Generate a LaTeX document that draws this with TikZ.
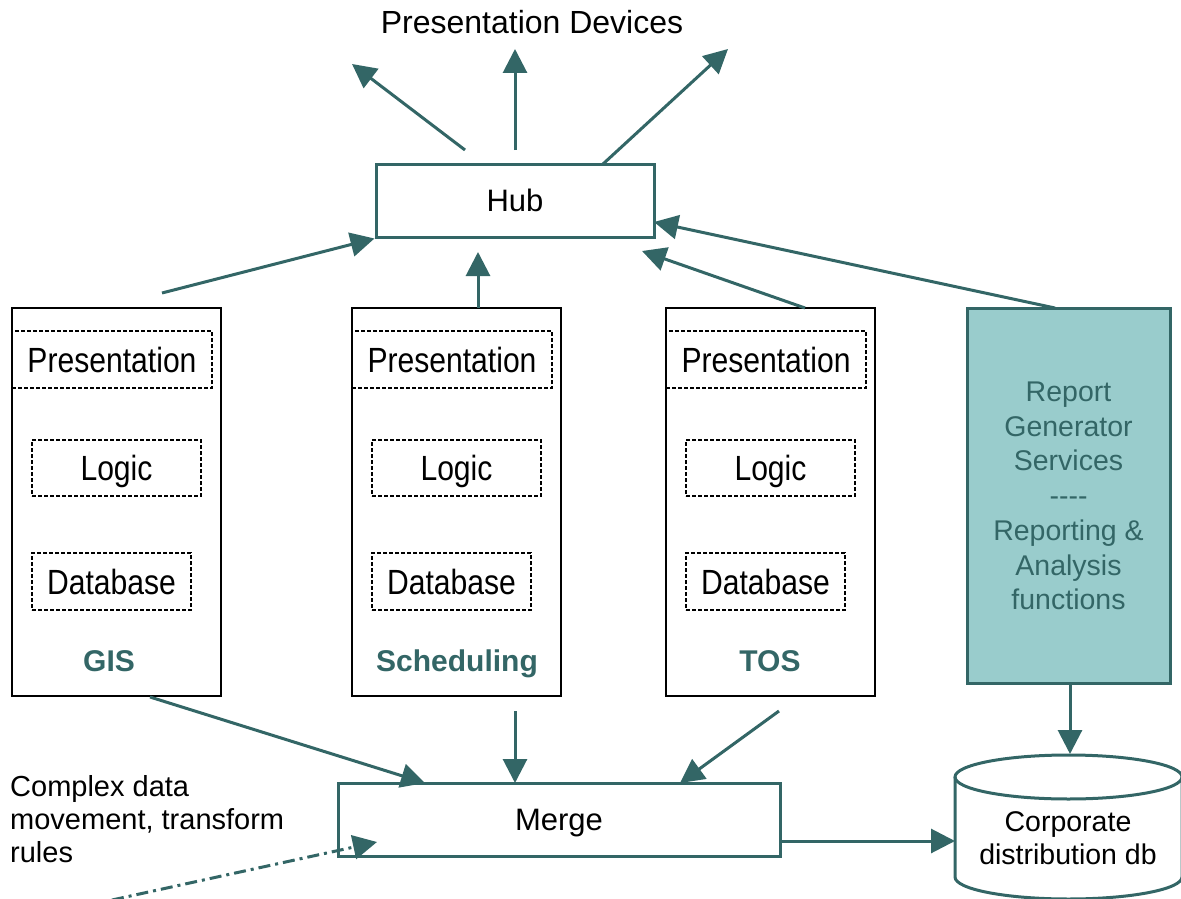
\documentclass[tikz,border=0pt]{standalone}
\usepackage{fontspec}
\usepackage{graphicx}
\setmainfont{Liberation Sans}
\usetikzlibrary{arrows.meta}
\definecolor{tealdark}{HTML}{336666}
\definecolor{tealfill}{HTML}{99CCCC}
\begin{document}
\begin{tikzpicture}[x=1pt,y=-1pt,
  conn/.style={draw=tealdark, line width=3pt, -{Triangle[length=24pt,width=24pt]}},
  flow/.style={draw=tealdark, line width=3pt, dash pattern=on 12pt off 5pt on 3pt off 5pt, -{Triangle[length=24pt,width=24pt]}},
  tbox/.style={draw=tealdark, line width=3pt, fill=white, inner sep=0pt, text depth=0pt, font=\fontsize{31}{35}\selectfont},
  colbox/.style={draw=black, line width=1.8pt, inner sep=0pt, minimum width=209pt, minimum height=388pt},
  layer/.style={draw=black, line width=1.5pt, dash pattern=on 4pt off 2pt, inner sep=0pt, text depth=0pt, font=\fontsize{35}{40}\selectfont},
  collabel/.style={text=tealdark, text depth=0pt, font=\bfseries\fontsize{30}{34}\selectfont},
  plain/.style={inner sep=0pt, font=\fontsize{29}{33}\selectfont},
]
\useasboundingbox (0,0) rectangle (1181,899);
\clip (0,0) rectangle (1181,899);

% hub and fan-out to presentation devices
\node[plain, font=\fontsize{32}{36}\selectfont] (devices) at (532,22) {Presentation Devices};
\node[tbox, minimum width=278pt, minimum height=73pt] (hub) at (515,200.5) {Hub};
\coordinate (hubL) at (465,150);  \coordinate (devL) at (352,64);
\coordinate (hubM) at (515,150);  \coordinate (devM) at (515,49);
\coordinate (hubR) at (603,164);  \coordinate (devR) at (728,49);
\draw[conn] (hubL) -- (devL);
\draw[conn] (hubM) -- (devM);
\draw[conn] (hubR) -- (devR);

% application columns
\foreach \id/\lx/\cx/\lab in {gis/12/109/GIS, sch/352/457/Scheduling, tos/666/770/TOS} {
  \node[colbox] (\id) at (\lx+104.5,502) {};
  \node[layer, minimum width=200pt, minimum height=57pt] (\id-pres) at (\lx+100,359.5) {\scalebox{0.86}[1]{Presentation}};
  \node[layer, minimum width=169pt, minimum height=56pt] (\id-logic) at (\lx+104.5,468) {\scalebox{0.86}[1]{Logic}};
  \node[layer, minimum width=159pt, minimum height=57pt] (\id-db) at (\lx+99.5,581.5) {\scalebox{0.86}[1]{Database}};
  \node[collabel] (\id-lab) at (\cx,661) {\lab};
}

% report generator
\node[draw=tealdark, line width=3pt, fill=tealfill, inner sep=0pt,
      minimum width=203pt, minimum height=375pt] (rep) at (1068.5,495.5) {};
\node[text=tealdark, align=center, font=\fontsize{28.5}{34.7}\selectfont] (rep-text) at (1068.5,496)
  {Report\\Generator\\Services\\-{}-{}-{}-\\Reporting \&\\Analysis\\functions};

% links into the hub
\coordinate (gisUp) at (162,293);
\coordinate (schUp) at (478,308);   \coordinate (hubS) at (478,252);
\coordinate (tosUp) at (805,308);   \coordinate (hubSE) at (642,251);
\coordinate (repUp) at (1055,308);  \coordinate (hubE) at (654,222);
\draw[conn] (gisUp) -- (hub.south west);
\draw[conn] (schUp) -- (hubS);
\draw[conn] (tosUp) -- (hubSE);
\draw[conn] (repUp) -- (hubE);

% merge stage
\node[tbox, minimum width=442pt, minimum height=73pt] (merge) at (559,819.5) {Merge};
\coordinate (gisDn) at (150,697);  \coordinate (mergeA) at (425,783);
\coordinate (schDn) at (515,711);  \coordinate (mergeB) at (515,783);
\coordinate (tosDn) at (779,711);  \coordinate (mergeC) at (680,783);
\draw[conn] (gisDn) -- (mergeA);
\draw[conn] (schDn) -- (mergeB);
\draw[conn] (tosDn) -- (mergeC);

% transform rules feeding the merge
\node[plain, anchor=west, align=left] (rules) at (10,819) {Complex data\\movement, transform\\rules};
\coordinate (rulesSrc) at (112,900);
\coordinate (mergeIn) at (377,842);
\draw[flow] (rulesSrc) -- (mergeIn);

% corporate distribution database
\draw[draw=tealdark, line width=3pt, fill=white]
  (955,777) -- (955,877) arc[start angle=180, end angle=0, x radius=113.5, y radius=22]
  -- (1182,777);
\draw[draw=tealdark, line width=3pt] (1068.5,777) ellipse[x radius=113.5, y radius=22];
\node[plain, align=center, font=\fontsize{28.5}{33}\selectfont] (db) at (1068,838) {Corporate\\distribution db};
\coordinate (mergeOut) at (780,841);
\coordinate (dbW) at (955,841);
\coordinate (repDn) at (1070,683);
\coordinate (dbTop) at (1070,754);
\draw[conn] (mergeOut) -- (dbW);
\draw[conn] (repDn) -- (dbTop);
\end{tikzpicture}
\end{document}
